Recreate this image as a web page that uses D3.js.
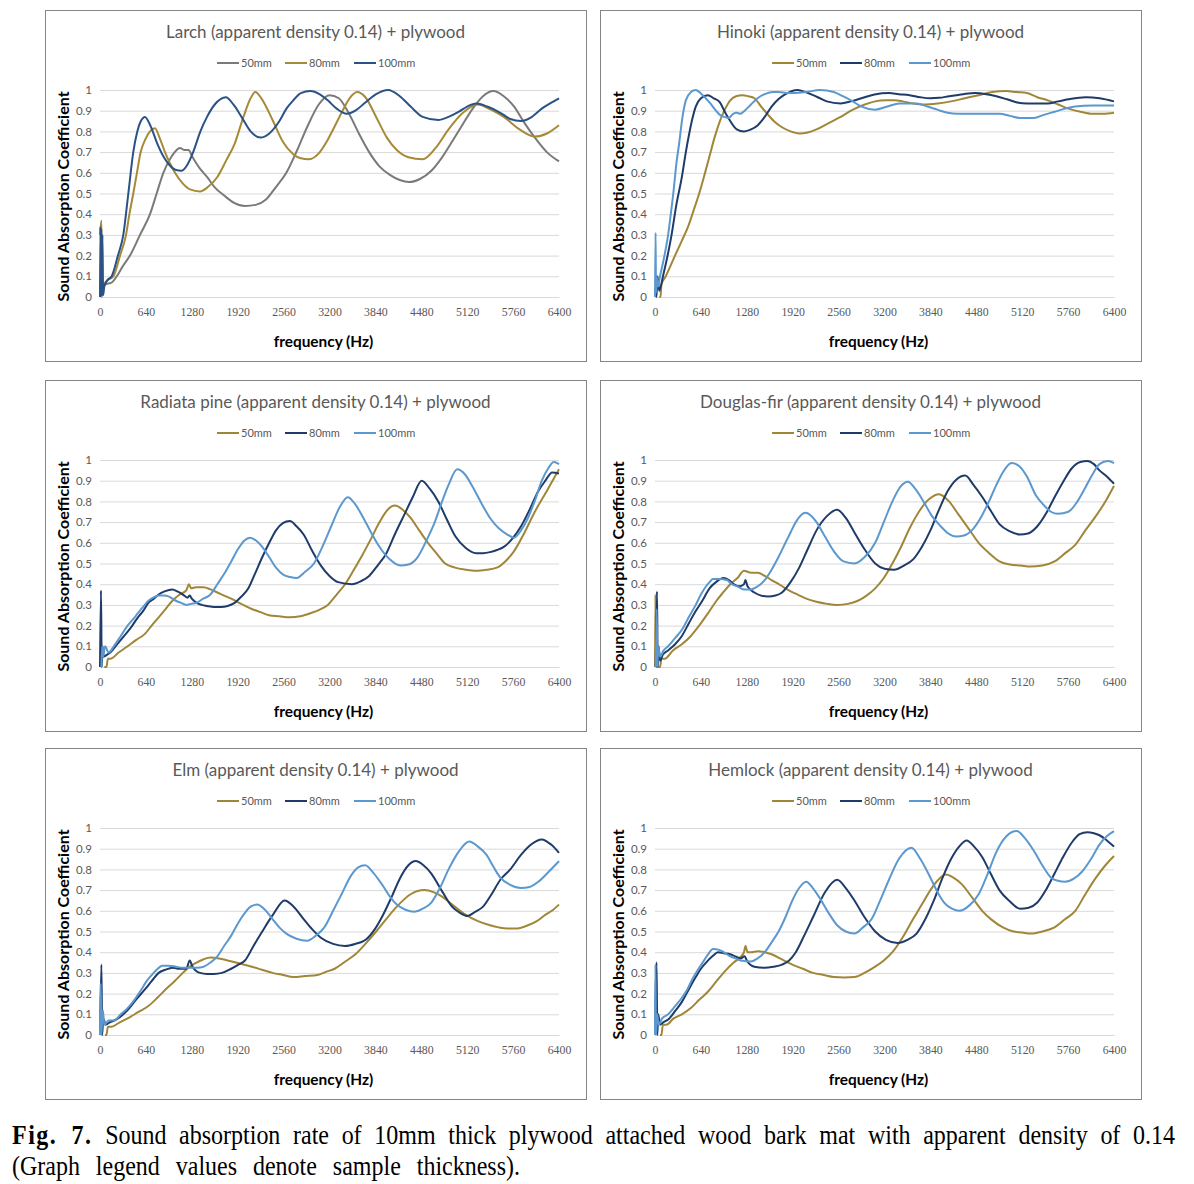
<!DOCTYPE html>
<html><head><meta charset="utf-8">
<script src="https://cdn.jsdelivr.net/npm/d3@7"></script>
<style>body{margin:0;background:#fff}svg{display:block}</style>
</head><body>
<svg id="fig" width="1194" height="1184"></svg>
<script>
// ---------- DATA (frequency Hz, absorption coefficient) ----------
const xTicks = [0,640,1280,1920,2560,3200,3840,4480,5120,5760,6400];
const yTicks = [0,0.1,0.2,0.3,0.4,0.5,0.6,0.7,0.8,0.9,1];
const yTickLabels = ["0","0.1","0.2","0.3","0.4","0.5","0.6","0.7","0.8","0.9","1"];
const seriesNames = ["50mm","80mm","100mm"];
const titles = ["Larch (apparent density 0.14) + plywood","Hinoki (apparent density 0.14) + plywood","Radiata pine (apparent density 0.14) + plywood","Douglas-fir (apparent density 0.14) + plywood","Elm (apparent density 0.14) + plywood","Hemlock (apparent density 0.14) + plywood"];

const larch50=[[30,0.05],[68,0.06],[163,0.07],[233,0.1],[320,0.15],[418,0.2],[558,0.3],[697,0.4],[790,0.5],[883,0.6],[1000,0.68],[1115,0.72],[1180,0.71],[1231,0.71],[1300,0.67],[1394,0.62],[1492,0.58],[1600,0.53],[1732,0.49],[1870,0.455],[2021,0.44],[2170,0.445],[2310,0.47],[2450,0.53],[2598,0.6],[2750,0.71],[2887,0.82],[3050,0.93],[3200,0.975],[3330,0.96],[3465,0.89],[3610,0.79],[3753,0.7],[3900,0.63],[4042,0.59],[4180,0.565],[4307,0.555],[4460,0.57],[4620,0.61],[4760,0.67],[4908,0.75],[5050,0.83],[5197,0.91],[5340,0.97],[5486,0.995],[5630,0.97],[5774,0.92],[5920,0.84],[6063,0.77],[6230,0.7],[6400,0.655]];
const larch80=[[0,0.3],[20,0.37],[30,0.05],[50,0.06],[100,0.08],[186,0.1],[279,0.2],[363,0.3],[410,0.4],[464,0.5],[515,0.6],[567,0.7],[630,0.76],[697,0.8],[767,0.815],[830,0.77],[906,0.7],[970,0.65],[1046,0.6],[1150,0.55],[1255,0.52],[1394,0.51],[1500,0.53],[1636,0.58],[1760,0.66],[1877,0.74],[2000,0.87],[2100,0.96],[2165,0.99],[2250,0.96],[2406,0.855],[2550,0.75],[2695,0.69],[2800,0.67],[2911,0.665],[3040,0.69],[3176,0.76],[3280,0.83],[3368,0.89],[3480,0.96],[3585,0.99],[3700,0.965],[3850,0.87],[4000,0.77],[4138,0.71],[4300,0.675],[4499,0.665],[4680,0.72],[4860,0.81],[5060,0.89],[5269,0.93],[5450,0.905],[5630,0.87],[5850,0.81],[6063,0.775],[6230,0.79],[6400,0.83]];
const larch100=[[0,0],[6,0.34],[12,0.02],[18,0.33],[26,0],[34,0.3],[44,0.01],[60,0.05],[100,0.08],[163,0.1],[250,0.2],[325,0.3],[395,0.5],[464,0.7],[520,0.8],[570,0.85],[627,0.87],[700,0.83],[800,0.74],[883,0.68],[962,0.64],[1050,0.615],[1139,0.61],[1220,0.64],[1299,0.7],[1400,0.8],[1492,0.87],[1600,0.93],[1756,0.965],[1860,0.93],[1973,0.87],[2100,0.8],[2238,0.77],[2360,0.79],[2502,0.85],[2600,0.91],[2695,0.95],[2800,0.985],[2935,0.995],[3060,0.98],[3176,0.95],[3300,0.91],[3440,0.885],[3560,0.9],[3700,0.94],[3850,0.98],[4018,1.0],[4180,0.97],[4331,0.92],[4500,0.87],[4716,0.855],[4860,0.87],[5005,0.895],[5120,0.92],[5245,0.935],[5400,0.92],[5582,0.89],[5720,0.86],[5871,0.85],[6000,0.865],[6160,0.91],[6300,0.94],[6400,0.96]];

const hinoki50=[[60,0],[77,0.0],[90,0.06],[150,0.1],[279,0.2],[372,0.27],[472,0.35],[540,0.42],[616,0.5],[690,0.59],[760,0.68],[830,0.77],[905,0.85],[980,0.91],[1049,0.95],[1130,0.97],[1217,0.975],[1300,0.97],[1386,0.96],[1480,0.92],[1578,0.88],[1671,0.845],[1771,0.82],[1890,0.8],[2011,0.79],[2130,0.795],[2252,0.81],[2420,0.84],[2588,0.87],[2760,0.905],[2925,0.93],[3070,0.945],[3214,0.95],[3340,0.95],[3455,0.945],[3600,0.935],[3743,0.93],[3940,0.935],[4128,0.945],[4320,0.96],[4513,0.975],[4700,0.99],[4897,0.995],[5040,0.99],[5186,0.985],[5330,0.965],[5476,0.95],[5620,0.93],[5764,0.91],[5930,0.895],[6100,0.885],[6250,0.885],[6400,0.89]];
const hinoki80=[[0,0],[10,0.05],[20,0.0],[35,0.1],[60,0.03],[111,0.1],[231,0.3],[300,0.45],[375,0.58],[430,0.7],[472,0.78],[520,0.86],[568,0.92],[640,0.96],[736,0.975],[820,0.96],[905,0.94],[980,0.89],[1049,0.85],[1140,0.81],[1241,0.8],[1340,0.81],[1434,0.83],[1530,0.87],[1626,0.92],[1720,0.955],[1819,0.98],[1987,1.0],[2100,0.99],[2204,0.975],[2300,0.96],[2396,0.945],[2588,0.935],[2730,0.945],[2877,0.96],[3060,0.978],[3262,0.985],[3400,0.98],[3551,0.975],[3700,0.965],[3840,0.96],[3960,0.962],[4100,0.97],[4300,0.98],[4462,0.985],[4620,0.98],[4760,0.97],[4910,0.955],[5050,0.94],[5188,0.935],[5476,0.935],[5620,0.945],[5764,0.955],[6004,0.965],[6200,0.96],[6400,0.945]];
const hinoki100=[[0,0],[8,0.31],[14,0.02],[22,0.1],[40,0.05],[70,0.1],[120,0.18],[183,0.3],[220,0.4],[255,0.5],[300,0.65],[340,0.75],[375,0.85],[430,0.95],[500,0.99],[568,1.0],[650,0.98],[760,0.94],[850,0.9],[905,0.88],[970,0.87],[1025,0.865],[1090,0.885],[1140,0.89],[1190,0.885],[1250,0.9],[1338,0.93],[1430,0.96],[1530,0.98],[1650,0.99],[1723,0.99],[1860,0.985],[1950,0.985],[2108,0.99],[2300,1.0],[2492,0.99],[2620,0.97],[2733,0.95],[2880,0.92],[3070,0.905],[3240,0.92],[3407,0.935],[3647,0.935],[3800,0.92],[3936,0.905],[4080,0.89],[4225,0.885],[4450,0.885],[4610,0.885],[4802,0.885],[4950,0.875],[5090,0.865],[5282,0.865],[5420,0.88],[5571,0.895],[5720,0.91],[5860,0.92],[6100,0.925],[6400,0.925]];

const radiata50=[[60,0],[90,0.0],[110,0.04],[144,0.04],[260,0.07],[385,0.1],[500,0.13],[626,0.16],[720,0.2],[818,0.24],[914,0.28],[1010,0.32],[1110,0.35],[1203,0.37],[1240,0.4],[1270,0.38],[1340,0.385],[1444,0.385],[1540,0.375],[1636,0.36],[1730,0.345],[1829,0.33],[1970,0.305],[2117,0.28],[2240,0.265],[2358,0.25],[2500,0.245],[2647,0.24],[2790,0.245],[2935,0.26],[3050,0.275],[3176,0.3],[3300,0.35],[3417,0.4],[3540,0.47],[3657,0.54],[3780,0.62],[3898,0.7],[4010,0.76],[4114,0.78],[4220,0.76],[4331,0.72],[4450,0.66],[4572,0.6],[4690,0.55],[4812,0.5],[4950,0.48],[5100,0.47],[5245,0.465],[5390,0.47],[5534,0.48],[5650,0.51],[5774,0.56],[5920,0.65],[6063,0.75],[6230,0.85],[6400,0.955]];
const radiata80=[[0,0],[14,0.37],[24,0.0],[36,0.1],[50,0.05],[100,0.06],[144,0.07],[240,0.11],[337,0.15],[430,0.19],[529,0.24],[600,0.27],[674,0.31],[750,0.33],[818,0.35],[900,0.365],[1010,0.375],[1080,0.365],[1155,0.35],[1220,0.335],[1251,0.345],[1280,0.33],[1347,0.31],[1420,0.3],[1492,0.295],[1590,0.29],[1684,0.29],[1780,0.295],[1877,0.31],[1970,0.34],[2069,0.38],[2160,0.45],[2262,0.53],[2360,0.6],[2454,0.66],[2550,0.695],[2647,0.705],[2740,0.68],[2839,0.64],[2960,0.56],[3080,0.49],[3200,0.44],[3320,0.41],[3513,0.4],[3640,0.415],[3753,0.44],[3870,0.49],[3994,0.55],[4110,0.64],[4235,0.73],[4360,0.82],[4485,0.9],[4600,0.86],[4716,0.8],[4840,0.71],[4957,0.63],[5100,0.575],[5245,0.55],[5341,0.55],[5438,0.555],[5534,0.565],[5630,0.58],[5750,0.62],[5871,0.68],[5990,0.76],[6112,0.85],[6210,0.9],[6304,0.94],[6400,0.935]];
const radiata100=[[20,0.0],[30,0.1],[45,0.05],[70,0.1],[120,0.07],[192,0.1],[290,0.15],[385,0.2],[460,0.23],[529,0.26],[600,0.29],[674,0.32],[740,0.335],[818,0.345],[890,0.345],[962,0.34],[1010,0.33],[1059,0.32],[1130,0.31],[1203,0.3],[1270,0.305],[1347,0.31],[1440,0.33],[1540,0.35],[1636,0.4],[1732,0.45],[1830,0.51],[1925,0.57],[2010,0.61],[2093,0.625],[2180,0.61],[2262,0.58],[2360,0.53],[2454,0.48],[2560,0.445],[2650,0.435],[2743,0.43],[2860,0.46],[2983,0.5],[3100,0.58],[3224,0.68],[3340,0.77],[3455,0.82],[3550,0.79],[3657,0.73],[3780,0.65],[3898,0.58],[4040,0.52],[4187,0.49],[4300,0.495],[4427,0.53],[4550,0.61],[4668,0.7],[4770,0.8],[4860,0.88],[4981,0.955],[5090,0.93],[5197,0.87],[5320,0.79],[5438,0.72],[5560,0.67],[5679,0.64],[5774,0.625],[5870,0.66],[5967,0.72],[6060,0.8],[6160,0.9],[6250,0.96],[6328,0.99],[6400,0.98]];

const douglas50=[[0,0],[6,0.35],[14,0.0],[70,0.0],[90,0.04],[135,0.04],[250,0.08],[375,0.11],[500,0.15],[616,0.2],[740,0.26],[857,0.32],[950,0.36],[1049,0.4],[1150,0.43],[1241,0.465],[1340,0.455],[1434,0.455],[1530,0.44],[1626,0.42],[1750,0.395],[1867,0.37],[1990,0.35],[2108,0.33],[2250,0.315],[2400,0.305],[2540,0.3],[2690,0.305],[2829,0.32],[2950,0.345],[3070,0.38],[3190,0.43],[3310,0.5],[3430,0.58],[3551,0.67],[3680,0.75],[3820,0.81],[3960,0.835],[4100,0.8],[4225,0.74],[4370,0.67],[4513,0.6],[4660,0.55],[4802,0.51],[4950,0.495],[5100,0.49],[5235,0.485],[5400,0.49],[5571,0.51],[5720,0.55],[5860,0.59],[6000,0.66],[6149,0.73],[6280,0.8],[6400,0.875]];
const douglas80=[[10,0],[28,0.365],[38,0.0],[50,0.1],[70,0.03],[110,0.06],[183,0.08],[280,0.11],[375,0.15],[470,0.21],[568,0.27],[660,0.32],[760,0.38],[850,0.41],[953,0.43],[1030,0.42],[1097,0.4],[1170,0.39],[1241,0.4],[1260,0.42],[1290,0.39],[1386,0.36],[1480,0.345],[1578,0.34],[1680,0.345],[1771,0.36],[1890,0.41],[2011,0.48],[2130,0.57],[2252,0.66],[2400,0.73],[2540,0.76],[2660,0.72],[2781,0.65],[2920,0.57],[3070,0.5],[3200,0.475],[3335,0.47],[3470,0.49],[3599,0.52],[3720,0.58],[3840,0.66],[3960,0.76],[4081,0.85],[4200,0.905],[4325,0.925],[4440,0.88],[4566,0.82],[4690,0.75],[4803,0.69],[4950,0.655],[5090,0.64],[5200,0.645],[5331,0.68],[5450,0.74],[5571,0.82],[5700,0.9],[5812,0.96],[5930,0.99],[6029,0.995],[6120,0.98],[6197,0.95],[6300,0.92],[6400,0.885]];
const douglas100=[[10,0],[24,0.28],[32,0.0],[45,0.1],[70,0.05],[120,0.08],[183,0.1],[280,0.14],[375,0.18],[470,0.24],[568,0.3],[640,0.35],[712,0.39],[760,0.41],[808,0.425],[900,0.425],[1001,0.42],[1070,0.4],[1145,0.39],[1241,0.375],[1340,0.375],[1434,0.39],[1530,0.42],[1626,0.47],[1720,0.53],[1819,0.6],[1890,0.65],[1963,0.7],[2098,0.745],[2180,0.73],[2252,0.7],[2370,0.63],[2492,0.56],[2630,0.51],[2781,0.5],[2920,0.53],[3070,0.6],[3190,0.7],[3310,0.8],[3420,0.87],[3527,0.895],[3630,0.86],[3743,0.8],[3860,0.73],[3984,0.68],[4090,0.645],[4200,0.63],[4310,0.635],[4417,0.66],[4540,0.72],[4657,0.8],[4760,0.88],[4850,0.94],[4970,0.985],[5080,0.97],[5186,0.92],[5310,0.83],[5427,0.78],[5520,0.75],[5620,0.74],[5764,0.75],[5890,0.8],[6005,0.87],[6100,0.93],[6197,0.98],[6317,0.995],[6400,0.985]];

const elm50=[[70,0],[90,0.0],[110,0.04],[160,0.04],[270,0.06],[385,0.08],[530,0.11],[674,0.14],[800,0.18],[914,0.22],[1040,0.26],[1155,0.3],[1250,0.33],[1347,0.35],[1440,0.365],[1540,0.375],[1660,0.37],[1780,0.36],[1950,0.345],[2117,0.33],[2260,0.315],[2406,0.3],[2550,0.29],[2695,0.28],[2860,0.285],[3032,0.29],[3150,0.305],[3272,0.32],[3420,0.355],[3561,0.39],[3700,0.44],[3850,0.5],[3990,0.56],[4138,0.62],[4331,0.68],[4523,0.7],[4650,0.69],[4764,0.67],[4930,0.625],[5101,0.58],[5270,0.55],[5438,0.53],[5560,0.52],[5679,0.515],[5820,0.515],[5967,0.53],[6090,0.55],[6208,0.58],[6300,0.6],[6400,0.63]];
const elm80=[[0,0],[20,0.34],[30,0.0],[45,0.08],[80,0.05],[130,0.06],[200,0.07],[290,0.09],[385,0.12],[500,0.17],[626,0.22],[720,0.26],[818,0.3],[910,0.315],[1010,0.325],[1110,0.32],[1203,0.32],[1251,0.36],[1290,0.33],[1395,0.3],[1490,0.295],[1588,0.295],[1700,0.3],[1829,0.32],[1930,0.34],[2021,0.36],[2140,0.43],[2262,0.5],[2410,0.58],[2574,0.65],[2700,0.62],[2839,0.56],[2960,0.51],[3080,0.47],[3250,0.44],[3417,0.43],[3560,0.44],[3705,0.46],[3830,0.51],[3946,0.58],[4070,0.67],[4187,0.76],[4300,0.82],[4403,0.84],[4510,0.82],[4620,0.78],[4760,0.7],[4908,0.62],[5020,0.59],[5124,0.575],[5230,0.595],[5341,0.62],[5460,0.68],[5582,0.75],[5720,0.8],[5870,0.87],[6010,0.92],[6160,0.945],[6290,0.92],[6400,0.88]];
const elm100=[[0,0],[10,0.25],[18,0.0],[40,0.12],[60,0.05],[120,0.07],[192,0.07],[290,0.1],[385,0.13],[480,0.17],[577,0.22],[650,0.26],[722,0.29],[790,0.315],[866,0.335],[960,0.335],[1059,0.33],[1150,0.325],[1251,0.325],[1350,0.325],[1444,0.33],[1540,0.35],[1636,0.38],[1730,0.43],[1829,0.48],[1925,0.54],[2021,0.59],[2100,0.62],[2190,0.63],[2300,0.605],[2406,0.56],[2500,0.52],[2598,0.49],[2740,0.465],[2887,0.455],[3010,0.48],[3128,0.52],[3250,0.6],[3368,0.68],[3500,0.77],[3600,0.81],[3696,0.82],[3820,0.78],[3946,0.72],[4040,0.67],[4138,0.63],[4260,0.605],[4379,0.595],[4500,0.61],[4620,0.64],[4740,0.71],[4860,0.8],[4990,0.88],[5149,0.935],[5270,0.91],[5390,0.87],[5490,0.81],[5582,0.76],[5720,0.725],[5870,0.71],[5990,0.715],[6111,0.74],[6260,0.79],[6400,0.84]];

const hemlock50=[[70,0],[90,0.0],[110,0.05],[160,0.05],[260,0.08],[375,0.1],[500,0.13],[616,0.17],[740,0.21],[857,0.26],[980,0.31],[1097,0.35],[1200,0.38],[1241,0.4],[1262,0.43],[1290,0.4],[1340,0.4],[1434,0.405],[1530,0.4],[1626,0.39],[1770,0.365],[1915,0.34],[2060,0.32],[2204,0.3],[2350,0.29],[2492,0.28],[2640,0.278],[2781,0.28],[2920,0.3],[3070,0.33],[3190,0.36],[3310,0.4],[3450,0.47],[3599,0.56],[3720,0.63],[3840,0.7],[3950,0.75],[4056,0.775],[4160,0.76],[4273,0.73],[4420,0.665],[4562,0.6],[4700,0.555],[4850,0.52],[5000,0.5],[5120,0.495],[5235,0.49],[5400,0.5],[5571,0.52],[5720,0.56],[5860,0.6],[6000,0.68],[6149,0.76],[6280,0.82],[6400,0.865]];
const hemlock80=[[0,0],[22,0.35],[32,0.0],[45,0.1],[70,0.05],[110,0.06],[200,0.08],[290,0.12],[375,0.16],[470,0.22],[568,0.28],[640,0.32],[712,0.35],[800,0.38],[880,0.4],[960,0.395],[1049,0.39],[1120,0.38],[1193,0.37],[1250,0.38],[1280,0.36],[1386,0.33],[1530,0.325],[1650,0.33],[1771,0.34],[1870,0.36],[1963,0.4],[2080,0.48],[2204,0.57],[2370,0.69],[2540,0.75],[2660,0.71],[2781,0.65],[2920,0.57],[3070,0.5],[3220,0.46],[3383,0.445],[3520,0.46],[3647,0.49],[3770,0.56],[3888,0.65],[4010,0.76],[4128,0.85],[4240,0.91],[4345,0.94],[4450,0.91],[4562,0.86],[4680,0.78],[4802,0.7],[4950,0.645],[5090,0.61],[5210,0.615],[5331,0.64],[5450,0.7],[5571,0.78],[5690,0.86],[5812,0.93],[5920,0.97],[6029,0.98],[6120,0.975],[6197,0.965],[6300,0.94],[6400,0.91]];
const hemlock100=[[0,0],[6,0.34],[14,0.0],[30,0.1],[50,0.05],[100,0.08],[183,0.1],[280,0.14],[375,0.18],[450,0.22],[520,0.27],[590,0.31],[664,0.35],[740,0.39],[808,0.415],[905,0.41],[980,0.395],[1049,0.38],[1120,0.37],[1193,0.36],[1338,0.355],[1430,0.37],[1530,0.4],[1630,0.45],[1723,0.5],[1820,0.57],[1915,0.65],[2010,0.71],[2108,0.74],[2200,0.71],[2300,0.66],[2420,0.59],[2540,0.53],[2660,0.5],[2781,0.49],[2900,0.52],[3021,0.56],[3140,0.65],[3262,0.75],[3400,0.85],[3575,0.905],[3700,0.85],[3840,0.76],[3940,0.69],[4032,0.64],[4140,0.61],[4249,0.6],[4380,0.625],[4513,0.68],[4640,0.78],[4754,0.88],[4900,0.96],[5043,0.985],[5160,0.95],[5282,0.89],[5400,0.82],[5523,0.76],[5620,0.745],[5716,0.74],[5840,0.755],[5956,0.79],[6080,0.85],[6197,0.92],[6300,0.96],[6400,0.985]];

const panelData = [
  [larch50, larch80, larch100],
  [hinoki50, hinoki80, hinoki100],
  [radiata50, radiata80, radiata100],
  [douglas50, douglas80, douglas100],
  [elm50, elm80, elm100],
  [hemlock50, hemlock80, hemlock100]
];
const captionLine1Bold = "Fig. 7.";
const captionLine1 = " Sound absorption rate of 10mm thick plywood attached wood bark mat with apparent density of 0.14";
const captionLine2 = "(Graph legend values denote sample thickness).";

// ---------- STYLE / LAYOUT ----------
const colorsLarch = ["#7a7a7a", "#a68a38", "#2b5287"];
const colorsOther = ["#a08738", "#1f3b69", "#5b98cf"];
const panelPos = [[45,10],[600,10],[45,380],[600,380],[45,748],[600,748]];
const PW = 541, PH = 351;
const plotL = 55, plotW = 459, plotT = 80, plotH = 207;

const svg = d3.select("#fig");
const x = d3.scaleLinear().domain([0,6400]).range([0, plotW]);
const y = d3.scaleLinear().domain([0,1]).range([plotH, 0]);
const line = d3.line().x(d=>x(d[0])).y(d=>y(d[1])).curve(d3.curveMonotoneX);

panelData.forEach((series, i) => {
  const [px, py] = panelPos[i];
  const colors = i === 0 ? colorsLarch : colorsOther;
  const g = svg.append("g").attr("transform", `translate(${px},${py})`);
  g.append("rect").attr("x",0.5).attr("y",0.5).attr("width",PW).attr("height",PH)
    .attr("fill","#fff").attr("stroke","#858585").attr("stroke-width",1);

  // title
  g.append("text").attr("x", PW/2).attr("y", 27.5).attr("text-anchor","middle")
    .attr("font-family","Lato, sans-serif").attr("font-size",17).attr("fill","#595959")
    .text(titles[i]);

  // legend
  const legX = [172, 240, 309];
  seriesNames.forEach((n, k) => {
    g.append("line").attr("x1", legX[k]).attr("x2", legX[k]+22).attr("y1", 53).attr("y2", 53)
      .attr("stroke", colors[k]).attr("stroke-width", 2);
    g.append("text").attr("x", legX[k]+24).attr("y", 57)
      .attr("font-family","Lato, sans-serif").attr("font-size",11).attr("fill","#595959").text(n);
  });

  const pg = g.append("g").attr("transform", `translate(${plotL},${plotT})`);
  // gridlines
  pg.append("g").call(d3.axisLeft(y).tickValues(yTicks).tickSize(-plotW).tickFormat((d,j)=>yTickLabels[j]))
    .call(a => {
      a.select(".domain").remove();
      a.selectAll(".tick line").attr("stroke","#d9d9d9").attr("stroke-width",1);
      a.selectAll(".tick text").attr("x",-8).attr("font-family","Lato, sans-serif")
        .attr("font-size",11.5).attr("fill","#595959");
    });
  pg.append("g").attr("transform",`translate(0,${plotH})`)
    .call(d3.axisBottom(x).tickValues(xTicks).tickSize(0).tickFormat(d3.format("d")))
    .call(a => {
      a.select(".domain").attr("stroke","#d9d9d9");
      a.selectAll(".tick text").attr("dy","1.35em").attr("font-family","'Liberation Serif', serif")
        .attr("font-size",11.8).attr("fill","#595959");
    });

  series.forEach((d, k) => {
    pg.append("path").datum(d).attr("d", line).attr("fill","none")
      .attr("stroke", colors[k]).attr("stroke-width", 2).attr("stroke-linejoin","round");
  });

  // axis titles
  g.append("text").attr("x", plotL + plotW/2 - 6).attr("y", 337).attr("text-anchor","middle")
    .attr("font-family","Lato, sans-serif").attr("font-weight","bold").attr("font-size",15.4)
    .attr("fill","#000").text("frequency (Hz)");
  g.append("text").attr("transform", `translate(24,${plotT + plotH/2 + 3}) rotate(-90)`)
    .attr("text-anchor","middle").attr("font-family","Lato, sans-serif").attr("font-weight","bold")
    .attr("font-size",16).attr("fill","#000").text("Sound Absorption Coefficient");
});

// caption
const capFont = "'Liberation Serif', 'Times New Roman', serif";
const cap1 = svg.append("text").attr("transform","translate(12,1144) scale(1,1.13)")
  .attr("font-family",capFont).attr("font-size",24).attr("fill","#000");
cap1.append("tspan").attr("font-weight","bold").attr("letter-spacing",1.5).text(captionLine1Bold);
cap1.append("tspan").text(captionLine1);
const cap2 = svg.append("text").attr("transform","translate(12,1175) scale(1,1.13)")
  .attr("font-family",capFont).attr("font-size",24).attr("fill","#000")
  .text(captionLine2);
function justify(t, target) {
  const txt = t.text();
  const gaps = (txt.match(/ /g) || []).length;
  const w = t.node().getComputedTextLength();
  if (gaps > 0) t.attr("word-spacing", Math.max(0, (target - w) / gaps));
}
justify(cap1, 1163);
justify(cap2, 508);
</script>
</body></html>
